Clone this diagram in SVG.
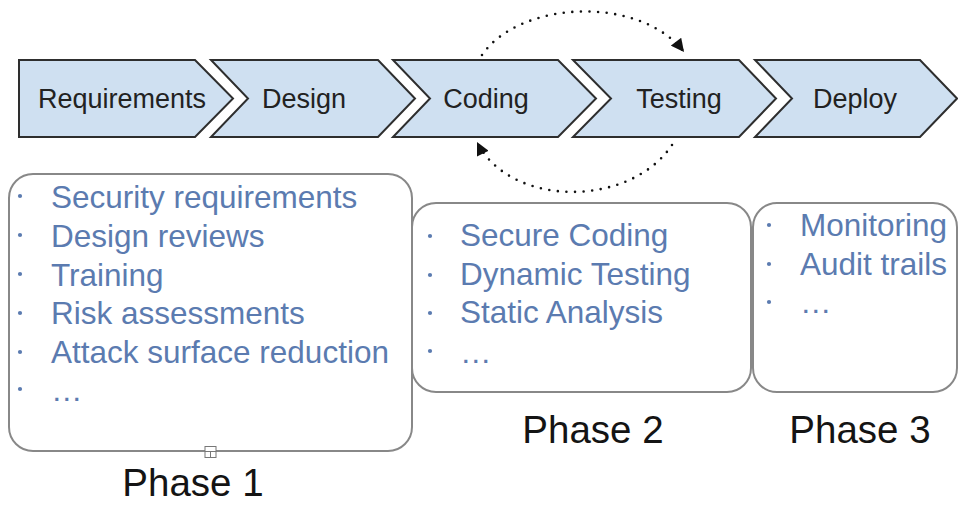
<svg xmlns="http://www.w3.org/2000/svg" width="958" height="505" viewBox="0 0 958 505">
<style>
.chev{fill:#cfe0f1;stroke:#2e2e2e;stroke-width:2;stroke-linejoin:miter}
.ct{font-family:"Liberation Sans",Arial,sans-serif;font-size:27px;fill:#222;text-anchor:middle}
.box{fill:#fff;stroke:#888;stroke-width:2}
.it{font-family:"Liberation Sans",Arial,sans-serif;font-size:31.5px;fill:#5b7bb0}
.bul{fill:#5b7bb0}
.ph{font-family:"Liberation Sans",Arial,sans-serif;font-size:38.5px;fill:#141414;text-anchor:middle}
.dot{fill:none;stroke:#111;stroke-width:2.6;stroke-linecap:round;stroke-dasharray:0 8.6}
</style>
<defs>
<marker id="ah" viewBox="0 0 10 10" refX="10" refY="5" markerUnits="userSpaceOnUse" markerWidth="15" markerHeight="13" orient="auto">
<path d="M0,0 L10,5 L0,10 z" fill="#111"/>
</marker>
</defs>
<rect width="958" height="505" fill="#fff"/>

<g id="requirements">
<polygon class="chev" points="19,60 195,60 233,98.5 195,137 19,137"/>
<text class="ct" x="122" y="108">Requirements</text>
</g>
<g id="design">
<polygon class="chev" points="211,60 378,60 415,98.5 378,137 211,137 248,98.5"/>
<text class="ct" x="304" y="108">Design</text>
</g>
<g id="coding">
<polygon class="chev" points="393,60 558,60 596,98.5 558,137 393,137 430,98.5"/>
<text class="ct" x="486" y="108">Coding</text>
</g>
<g id="testing">
<polygon class="chev" points="573,60 739,60 776,98.5 739,137 573,137 611,98.5"/>
<text class="ct" x="679" y="108">Testing</text>
</g>
<g id="deploy">
<polygon class="chev" points="755,60 920,60 957,98.5 920,137 755,137 792,98.5"/>
<text class="ct" x="855" y="108">Deploy</text>
</g>

<g id="connectors">
<path class="dot" d="M482,55 C520,0 640,-5 684,52" marker-end="url(#ah)"/>
<path class="dot" d="M672,145 C630,208 510,208 477,142" marker-end="url(#ah)"/>
</g>

<g id="phase1">
<rect class="box" x="9" y="174" width="403" height="277" rx="24"/>
<circle class="bul" cx="20" cy="196" r="2.1"/>
<circle class="bul" cx="20" cy="235" r="2.1"/>
<circle class="bul" cx="20" cy="274" r="2.1"/>
<circle class="bul" cx="20" cy="313" r="2.1"/>
<circle class="bul" cx="20" cy="352" r="2.1"/>
<circle class="bul" cx="20" cy="389" r="2.1"/>
<text class="it" x="51" y="208">Security requirements</text>
<text class="it" x="51" y="247">Design reviews</text>
<text class="it" x="51" y="286">Training</text>
<text class="it" x="51" y="324">Risk assessments</text>
<text class="it" x="51" y="363">Attack surface reduction</text>
<text class="it" x="51" y="401">…</text>
<g fill="none" stroke="#777" stroke-width="1">
<rect x="205" y="446.5" width="11" height="11" fill="#fff"/>
<line x1="205" y1="451.5" x2="216" y2="451.5"/>
<line x1="210.5" y1="451.5" x2="210.5" y2="457.5"/>
</g>
<text class="ph" x="193" y="496">Phase 1</text>
</g>

<g id="phase2">
<rect class="box" x="412" y="203" width="339" height="189" rx="24"/>
<circle class="bul" cx="430" cy="236" r="2.1"/>
<circle class="bul" cx="430" cy="275" r="2.1"/>
<circle class="bul" cx="430" cy="313" r="2.1"/>
<circle class="bul" cx="430" cy="351" r="2.1"/>
<text class="it" x="460" y="246">Secure Coding</text>
<text class="it" x="460" y="285">Dynamic Testing</text>
<text class="it" x="460" y="323">Static Analysis</text>
<text class="it" x="460" y="363">…</text>
<text class="ph" x="593" y="443">Phase 2</text>
</g>

<g id="phase3">
<rect class="box" x="753" y="203" width="204" height="189" rx="24"/>
<circle class="bul" cx="769" cy="225" r="2.1"/>
<circle class="bul" cx="769" cy="264" r="2.1"/>
<circle class="bul" cx="769" cy="302" r="2.1"/>
<text class="it" x="800" y="236">Monitoring</text>
<text class="it" x="800" y="275">Audit trails</text>
<text class="it" x="800" y="313">…</text>
<text class="ph" x="860" y="443">Phase 3</text>
</g>
</svg>
